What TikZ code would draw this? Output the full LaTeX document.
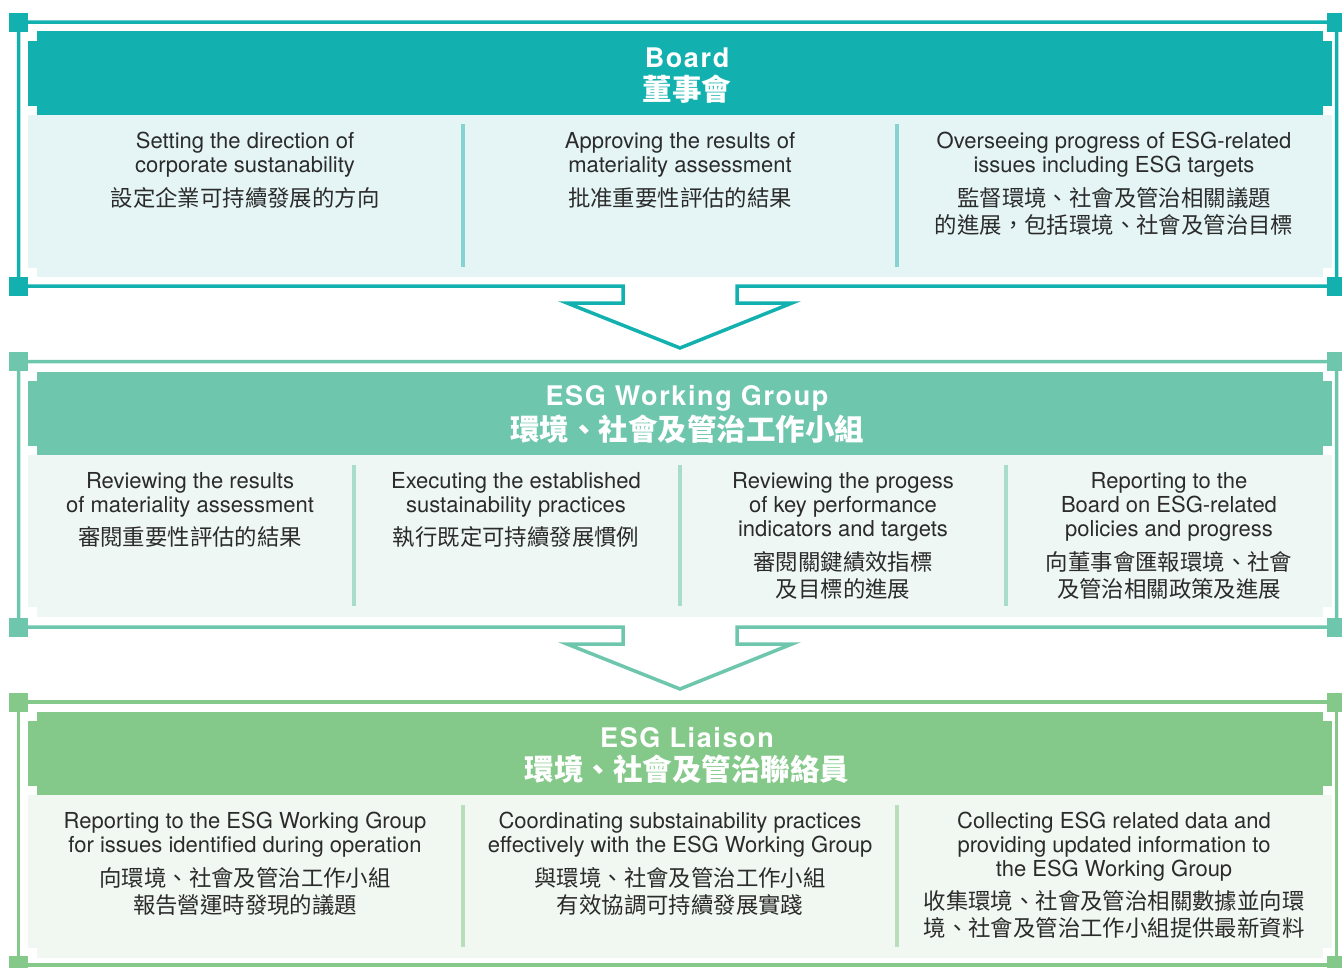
\documentclass[tikz,border=0pt]{standalone}
\usepackage{fontspec}
\setmainfont{TeX Gyre Heros}
\newfontfamily\cjk{Noto Sans CJK TC}
\newfontfamily\headfont[LetterSpace=6]{TeX Gyre Heros}
\definecolor{ink}{HTML}{2B2B2B}
\definecolor{board}{HTML}{12B1AF}
\definecolor{boardbody}{HTML}{E5F5F5}
\definecolor{boardsep}{HTML}{85D4D2}
\definecolor{wg}{HTML}{6EC6AD}
\definecolor{wgbody}{HTML}{EEF7F3}
\definecolor{wgsep}{HTML}{A8DDCB}
\definecolor{li}{HTML}{84C98A}
\definecolor{libody}{HTML}{F1F8F1}
\definecolor{lisep}{HTML}{B8DEBB}

\begin{document}
\begin{tikzpicture}[x=1pt,y=-1pt,
	en/.style={align=center,inner sep=0pt,text=ink,font=\fontsize{22}{24}\selectfont},
	zh/.style={align=center,inner sep=0pt,text=ink,font=\cjk\fontsize{22.4}{27}\selectfont},
	hden/.style={inner sep=0pt,text=white,font=\headfont\bfseries\fontsize{27}{30}\selectfont},
	hdzh/.style={inner sep=0pt,text=white,font=\cjk\bfseries\fontsize{29.5}{32}\selectfont},
	rim/.style={line width=3.5pt,miter limit=10},
	divider/.style={line width=4pt}]
	\useasboundingbox (0,0) rectangle (1342,967);

	% Board
	\fill[boardbody] (28,115) rectangle (1332,268);
	\fill[boardbody] (37,115) rectangle (1323,277);
	\fill[board] (37,31) rectangle (1323,115);
	\fill[board] (28,41) rectangle (1332,106);
	\draw[divider,boardsep] (463,124) -- (463,267);
	\draw[divider,boardsep] (897,124) -- (897,267);
	\draw[rim,board] (18.5,286) -- (18.5,22) -- (1336.5,22) -- (1336.5,286) -- (737,286) -- (737,303) -- (792,303) -- (680,348) -- (567,303) -- (623,303) -- (623,286) -- cycle;
	\foreach \y in {22,286} \foreach \x in {18.5,1336.5} \fill[board] (\x-9.5,\y-9.5) rectangle +(19,19);
	\node[hden] (boardhd) at (687,58) {Board};
	\node[hdzh] (boardzh) at (687,89) {董事會};
	\node[en] (b1en) at (245,155) {Setting the direction of\\corporate sustanability};
	\node[zh] (b1zh) at (245,198) {設定企業可持續發展的方向};
	\node[en] (b2en) at (680,155) {Approving the results of\\materiality assessment};
	\node[zh] (b2zh) at (680,198) {批准重要性評估的結果};
	\node[en] (b3en) at (1114,155) {Overseeing progress of ESG-related\\issues including ESG targets};
	\node[zh] (b3zh) at (1114,211.5) {監督環境、社會及管治相關議題\\的進展，包括環境、社會及管治目標};

	% ESG Working Group
	\fill[wgbody] (28,455) rectangle (1332,607);
	\fill[wgbody] (37,455) rectangle (1323,617);
	\fill[wg] (37,372) rectangle (1323,455);
	\fill[wg] (28,381) rectangle (1332,446);
	\draw[divider,wgsep] (354,465) -- (354,606);
	\draw[divider,wgsep] (680,465) -- (680,606);
	\draw[divider,wgsep] (1006,465) -- (1006,606);
	\draw[rim,wg] (18.5,627) -- (18.5,361.5) -- (1336.5,361.5) -- (1336.5,627) -- (737,627) -- (737,644) -- (792,644) -- (680,689) -- (567,644) -- (623,644) -- (623,627) -- cycle;
	\foreach \y in {361.5,627} \foreach \x in {18.5,1336.5} \fill[wg] (\x-9.5,\y-9.5) rectangle +(19,19);
	\node[hden] (wghd) at (687,398) {ESG Working Group};
	\node[hdzh] (wgzh) at (687,429) {環境、社會及管治工作小組};
	\node[en] (w1en) at (190,495) {Reviewing the results\\of materiality assessment};
	\node[zh] (w1zh) at (190,537) {審閱重要性評估的結果};
	\node[en] (w2en) at (516,495) {Executing the established\\sustainability practices};
	\node[zh] (w2zh) at (516,537) {執行既定可持續發展慣例};
	\node[en] (w3en) at (843,507) {Reviewing the progess\\of key performance\\indicators and targets};
	\node[zh] (w3zh) at (843,575.5) {審閱關鍵績效指標\\及目標的進展};
	\node[en] (w4en) at (1169,507) {Reporting to the\\Board on ESG-related\\policies and progress};
	\node[zh] (w4zh) at (1169,575.5) {向董事會匯報環境、社會\\及管治相關政策及進展};

	% ESG Liaison
	\fill[libody] (28,795) rectangle (1332,948);
	\fill[libody] (37,795) rectangle (1323,958);
	\fill[li] (37,712) rectangle (1323,795);
	\fill[li] (28,721) rectangle (1332,786);
	\draw[divider,lisep] (463,805) -- (463,947);
	\draw[divider,lisep] (897,805) -- (897,947);
	\draw[rim,li] (18.5,965) rectangle (1336.5,702);
	\foreach \y in {702,965} \foreach \x in {18.5,1336.5} \fill[li] (\x-9.5,\y-9.5) rectangle +(19,19);
	\node[hden] (lihd) at (687,738) {ESG Liaison};
	\node[hdzh] (lizh) at (687,769) {環境、社會及管治聯絡員};
	\node[en] (l1en) at (245,835) {Reporting to the ESG Working Group\\for issues identified during operation};
	\node[zh] (l1zh) at (245,891.5) {向環境、社會及管治工作小組\\報告營運時發現的議題};
	\node[en] (l2en) at (680,835) {Coordinating substainability practices\\effectively with the ESG Working Group};
	\node[zh] (l2zh) at (680,891.5) {與環境、社會及管治工作小組\\有效協調可持續發展實踐};
	\node[en] (l3en) at (1114,847) {Collecting ESG related data and\\providing updated information to\\the ESG Working Group};
	\node[zh] (l3zh) at (1114,914.5) {收集環境、社會及管治相關數據並向環\\境、社會及管治工作小組提供最新資料};
\end{tikzpicture}
\end{document}
